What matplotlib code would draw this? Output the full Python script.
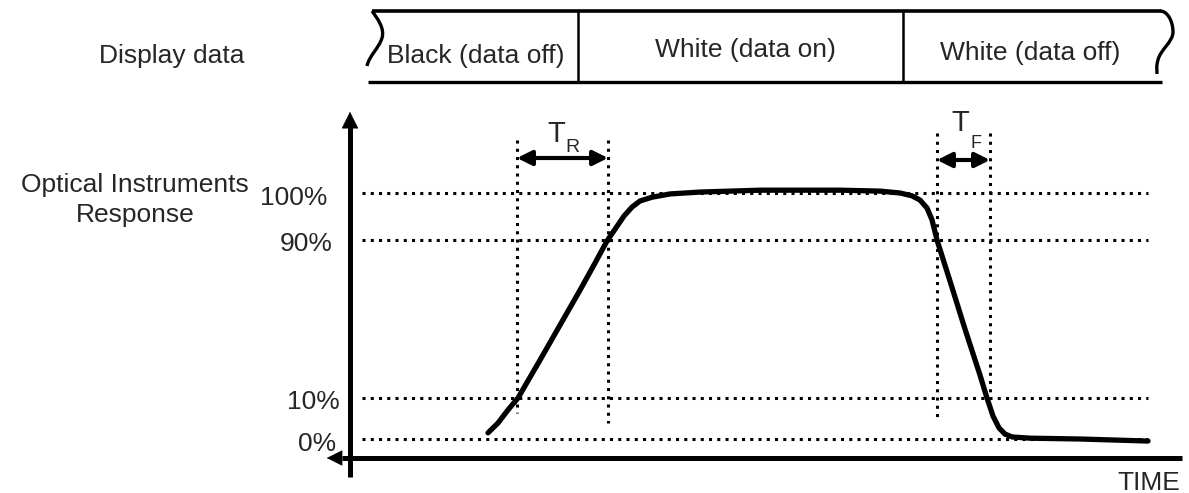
import numpy as np
import matplotlib
matplotlib.use("Agg")
import matplotlib.pyplot as plt
from matplotlib.path import Path
from matplotlib.patches import PathPatch, FancyArrowPatch

# ---------------- data ----------------
display_states = ["Black (data off)", "White (data on)", "White (data off)"]
level_pct = [0, 10, 90, 100]
level_labels = ["0%", "10%", "90%", "100%"]

# response curve: time (schematic units) and optical response (%)
time_t = [488, 498, 508, 518, 540, 560, 580, 595, 607, 616, 624, 632, 640, 652,
          670, 700, 760, 840, 880, 900, 912, 920, 927, 932, 937, 950, 965, 980,
          987, 993, 999, 1005, 1012, 1030, 1080, 1148]
response_pct = [1.5, 3.9, 7.1, 10, 29.2, 46.9, 64.6, 78.3, 89.5, 92.6, 95.1,
                97.0, 98.3, 99.1, 99.8, 100.2, 100.6, 100.6, 100.4, 100.0, 99.4,
                98.5, 96.8, 94.3, 90, 69.2, 44.9, 21.6, 10, 5.6, 2.7, 1.2, 0.5,
                0.2, 0.0, -0.5]

# rise / fall time markers (time units)
tr_start, tr_end = 517, 608
tf_start, tf_end = 937, 990

# ---------------- layout ----------------
W, H = 1189, 493
# schematic (non-linear) vertical placement of response levels, in pixels
lvl_px_pct = [-10, 0, 10, 90, 100, 110]
lvl_px_y = [480, 439, 398, 240, 193, 146]


def ypix(p):
    return np.interp(p, lvl_px_pct, lvl_px_y)


FONT = "Liberation Sans"
plt.rcParams["font.family"] = [FONT, "DejaVu Sans"]

fig = plt.figure(figsize=(W / 100, H / 100), dpi=100)
ax = fig.add_axes([0, 0, 1, 1])
ax.set_xlim(0, W)
ax.set_ylim(H, 0)
ax.axis("off")

TXT = "#262626"
FS = 19

# ---------------- display data strip ----------------
top_y, bot_y = 11, 82
ax.plot([372, 1161], [top_y, top_y], color="black", lw=2.6, solid_capstyle="butt")
ax.plot([368, 1162], [bot_y, bot_y], color="black", lw=2.4, solid_capstyle="butt")
for xd in (578, 903):
    ax.plot([xd, xd], [top_y, bot_y], color="black", lw=1.8)

left_edge = Path([(372, 11), (377, 18), (385, 28), (382, 38),
                  (379, 48), (369, 56), (367, 66)],
                 [Path.MOVETO, Path.CURVE4, Path.CURVE4, Path.CURVE4,
                  Path.CURVE4, Path.CURVE4, Path.CURVE4])
right_edge = Path([(1160, 11), (1168, 11), (1173, 22), (1173, 32),
                   (1173, 42), (1160, 50), (1158, 60),
                   (1156, 66), (1157, 70), (1157, 74)],
                  [Path.MOVETO, Path.CURVE4, Path.CURVE4, Path.CURVE4,
                   Path.CURVE4, Path.CURVE4, Path.CURVE4,
                   Path.CURVE4, Path.CURVE4, Path.CURVE4])
for p in (left_edge, right_edge):
    ax.add_patch(PathPatch(p, facecolor="none", edgecolor="black", lw=2.4))

state_pos = [(476, 63), (745, 57), (1030, 60)]
for s, (x, y) in zip(display_states, state_pos):
    ax.text(x, y, s, ha="center", va="baseline", fontsize=FS, color=TXT)

ax.text(172, 63, "Display data", ha="center", va="baseline", fontsize=FS, color=TXT)

# ---------------- y-axis labels ----------------
ax.text(135, 192, "Optical Instruments", ha="center", va="baseline", fontsize=FS, color=TXT)
ax.text(135, 222, "Response", ha="center", va="baseline", fontsize=FS, color=TXT)

label_xr = {0: 336, 10: 340, 90: 333, 100: 327}
label_base = {0: 451, 10: 409, 90: 251, 100: 205}
for p, lab in zip(level_pct, level_labels):
    ax.text(label_xr[p], label_base[p], lab, ha="right", va="baseline",
            fontsize=FS, color=TXT)

# ---------------- dotted guide lines ----------------
DOT = dict(color="black", lw=2.2, linestyle=(0, (1, 1.7)), dash_capstyle="butt")
for p in level_pct:
    ax.plot([362, 1148], [ypix(p), ypix(p)], **DOT)

ax.plot([tr_start, tr_start], [140, 413], **DOT)
ax.plot([tr_end, tr_end], [140, 423], **DOT)
ax.plot([tf_start, tf_start], [133, 418], **DOT)
ax.plot([tf_end, tf_end], [133, 396], **DOT)

# ---------------- axes (arrows) ----------------
ax.plot([350, 350], [477, 125], color="black", lw=3.6, solid_capstyle="butt")
ax.add_patch(FancyArrowPatch((350, 130), (350, 109), arrowstyle="-|>",
                             mutation_scale=28, color="black", lw=0.5))
ax.plot([1182, 342], [458, 458], color="black", lw=3.6, solid_capstyle="butt")
ax.add_patch(FancyArrowPatch((345, 458), (324, 458), arrowstyle="-|>",
                             mutation_scale=26, color="black", lw=0.5))
ax.text(1180, 490, "TIME", ha="right", va="baseline", fontsize=FS, color=TXT)

# ---------------- response curve ----------------
ax.plot(time_t, ypix(np.array(response_pct)), color="black", lw=3.8,
        solid_joinstyle="round", solid_capstyle="round")

# ---------------- rise / fall time markers ----------------
for (a, b, y) in ((tr_start, tr_end, 158), (tf_start, tf_end, 160)):
    ax.add_patch(FancyArrowPatch((a, y), (b, y), arrowstyle="<|-|>",
                                 mutation_scale=22, color="black", lw=3.0,
                                 shrinkA=0, shrinkB=0))

ax.text(547, 142, "T", ha="left", va="baseline", fontsize=21, color=TXT)
ax.text(565, 152, "R", ha="left", va="baseline", fontsize=14, color=TXT)
ax.text(951, 131, "T", ha="left", va="baseline", fontsize=21, color=TXT)
ax.text(971, 148, "F", ha="left", va="baseline", fontsize=13, color=TXT)

fig.savefig("out.png", dpi=100, facecolor="white")
